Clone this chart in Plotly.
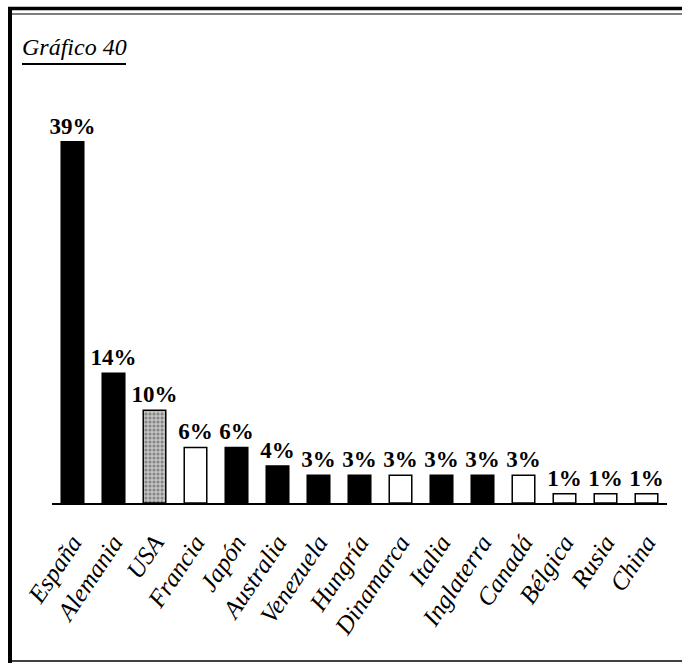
import plotly.graph_objects as go

# Share by country (%)
countries = ["España", "Alemania", "USA", "Francia", "Japón", "Australia", "Venezuela",
             "Hungría", "Dinamarca", "Italia", "Inglaterra", "Canadá", "Bélgica", "Rusia", "China"]
shares = [39, 14, 10, 6, 6, 4, 3, 3, 3, 3, 3, 3, 1, 1, 1]

# Bar fill per country: solid black, hollow, or stippled
bar_fill = ["#000000", "#000000", "#c4c4c4", "#ffffff", "#000000", "#000000", "#000000",
            "#000000", "#ffffff", "#000000", "#000000", "#ffffff", "#ffffff", "#ffffff", "#ffffff"]
bar_pattern = ["", "", ".", "", "", "", "", "", "", "", "", "", "", "", ""]

SERIF = "Liberation Serif, Times New Roman, Times, serif"

W, H = 682, 663
L, R, T, B = 52, 15, 100, 160
PW, PH = W - L - R, H - T - B


def px(x):
    return (x - L) / PW


def py(y):
    return (H - B - y) / PH


fig = go.Figure(go.Bar(
    x=countries,
    y=shares,
    width=0.55,
    marker=dict(
        color=bar_fill,
        line=dict(color="#000000", width=1.5),
        pattern=dict(shape=bar_pattern, fgcolor="#1a1a1a", size=4, solidity=0.45),
    ),
    text=[f"<b>{v}%</b>" for v in shares],
    textposition="outside",
    constraintext="none",
    cliponaxis=False,
    textfont=dict(family=SERIF, size=23, color="#000000"),
))

shapes = [
    # frame
    dict(type="line", xref="paper", yref="paper", x0=px(10), x1=px(10), y0=py(7), y1=py(663),
         line=dict(color="#000", width=4)),
    dict(type="line", xref="paper", yref="paper", x0=px(8), x1=px(682), y0=py(8.5), y1=py(8.5),
         line=dict(color="#000", width=3.5)),
    dict(type="line", xref="paper", yref="paper", x0=px(12), x1=px(682), y0=py(14), y1=py(14),
         line=dict(color="#000", width=1.2)),
    dict(type="line", xref="paper", yref="paper", x0=px(8), x1=px(682), y0=py(661), y1=py(661),
         line=dict(color="#000", width=1.5)),
    # title underline
    dict(type="line", xref="paper", yref="paper", x0=px(22), x1=px(126), y0=py(64), y1=py(64),
         line=dict(color="#000", width=2)),
]

fig.update_layout(
    width=W, height=H,
    margin=dict(l=L, r=R, t=T, b=B),
    paper_bgcolor="#ffffff",
    plot_bgcolor="#ffffff",
    showlegend=False,
    shapes=shapes,
    annotations=[dict(
        text="<i>Gráfico 40</i>", xref="paper", yref="paper",
        x=px(20), y=py(62), xanchor="left", yanchor="bottom", showarrow=False,
        font=dict(family=SERIF, size=24, color="#000"),
    )],
    xaxis=dict(
        range=[-0.5, 14.5],
        showline=True, linecolor="#000", linewidth=2,
        ticks="outside", ticklen=13, tickcolor="rgba(0,0,0,0)",
        tickangle=-56,
        tickfont=dict(family=SERIF, size=25, color="#000", style="italic"),
        showgrid=False, zeroline=False, fixedrange=True,
    ),
    yaxis=dict(range=[0, 43.5], visible=False, showgrid=False, zeroline=False, fixedrange=True),
)

fig.write_html("out.html")
